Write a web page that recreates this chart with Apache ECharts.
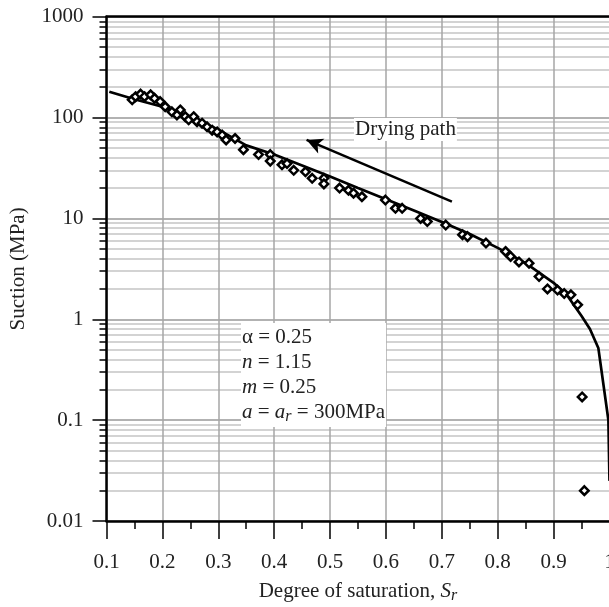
<!DOCTYPE html>
<html><head><meta charset="utf-8">
<script src="https://cdn.jsdelivr.net/npm/echarts@6/dist/echarts.min.js"></script>
<style>html,body{margin:0;padding:0;background:#fff}#c{width:609px;height:607px}</style>
</head><body><div id="c"></div>
<script>
// Measured points: degree of saturation and suction (MPa)
const measuredSat = [0.146,0.152,0.161,0.168,0.179,0.186,0.196,0.205,0.217,0.232,0.226,0.241,0.247,0.256,0.262,0.271,0.280,0.289,0.298,0.307,0.314,
  0.330,0.345,0.372,0.393,0.393,0.414,0.423,0.435,0.456,0.468,0.489,0.489,0.517,0.533,
  0.542,0.557,0.599,0.617,0.629,0.662,0.674,0.707,0.737,0.746,0.779,0.814,0.823,0.838,0.856,0.874,0.889,0.907,0.919,0.931,0.943,
  0.951,0.955];
const measuredSuction = [150,161,171,161,168,155,144,128,114,119,106,102,95,102,91,88,81,75,72,67,60,
  62,48,43,43,37,34,35,30,29,25,25,22,20,19,
  17.8,16.4,15.2,12.6,12.6,10.0,9.3,8.6,6.9,6.6,5.7,4.7,4.2,3.7,3.6,2.65,2.0,1.95,1.8,1.75,1.39,
  0.17,0.02];
// Fitted curve
const curveSat = [0.105,0.15,0.2,0.25,0.3,0.35,0.4,0.45,0.5,0.55,0.6,0.65,0.7,0.75,0.8,0.85,0.9,0.925,0.95,0.965,0.98,0.998,1.0];
const curveSuction = [180,152,128,100,76,53,43,33.5,26,20,15.5,12,9.2,7,5.1,3.6,2.3,1.7,1.08,0.8,0.52,0.1,0.025];
// Axis ticks
const xMin = 0.1, xMax = 1.0, xStep = 0.1;
const yMajorTicks = [0.01,0.1,1,10,100,1000];
const yMinorTicks = [0.02,0.03,0.04,0.05,0.06,0.07,0.08,0.09,
  0.2,0.3,0.4,0.5,0.6,0.7,0.8,0.9,
  2,3,4,5,6,7,8,9,
  20,30,40,50,60,70,80,90,
  200,300,400,500,600,700,800,900];
// Arrow (data coords)
const arrowFrom = [0.718, 14.7];
const arrowTo = [0.458, 60];

const FONT = 'Liberation Serif';
const chart = echarts.init(document.getElementById('c'), null, {renderer:'canvas'});
const option = {
  animation: false,
  backgroundColor: '#fff',
  grid: {left: 106.5, top: 16.7, width: 503, height: 504.3, containLabel: false, outerBoundsMode: 'none'},
  xAxis: [{
    type: 'value', min: xMin, max: xMax, interval: xStep, position: 'bottom',
    name: '{t|Degree of saturation, }{i|S}{sub|r}', nameLocation: 'middle', nameGap: 57,
    nameTextStyle: {rich: {
      t: {fontFamily: FONT, fontSize: 21, color: '#222'},
      i: {fontFamily: FONT, fontSize: 21, fontStyle: 'italic', color: '#222'},
      sub: {fontFamily: FONT, fontSize: 16, fontStyle: 'italic', color: '#222', verticalAlign: 'bottom', padding: [10,0,0,0]}
    }},
    axisLine: {show: true, onZero: false, lineStyle: {color: '#000', width: 2.5}},
    axisTick: {show: true, length: 18, lineStyle: {color: '#000', width: 1.5}},
    minorTick: {show: true, splitNumber: 2, length: 8, lineStyle: {color: '#000', width: 1.5}},
    splitLine: {show: true, lineStyle: {color: '#a6a6a6', width: 1.5}},
    axisLabel: {fontFamily: FONT, fontSize: 21, color: '#222', margin: 31,
      formatter: v => String(Math.round(v * 10) / 10)}
  }, {
    type: 'value', min: xMin, max: xMax, interval: xStep, position: 'top',
    axisLine: {show: true, onZero: false, lineStyle: {color: '#000', width: 2.5}},
    axisTick: {show: false}, axisLabel: {show: false}, splitLine: {show: false}
  }],
  yAxis: [{
    type: 'log', logBase: 10, min: yMajorTicks[0], max: yMajorTicks[yMajorTicks.length-1],
    name: 'Suction (MPa)', nameLocation: 'middle', nameGap: 78,
    nameTextStyle: {fontFamily: FONT, fontSize: 21, color: '#222'},
    axisLine: {show: true, onZero: false, lineStyle: {color: '#000', width: 2.5}},
    axisTick: {show: true, length: 14, lineStyle: {color: '#000', width: 1.5}},
    splitLine: {show: true, lineStyle: {color: '#999', width: 1.5}},
    axisLabel: {fontFamily: FONT, fontSize: 21, color: '#222', margin: 23,
      formatter: v => (v < 1 ? String(+Number(v).toPrecision(1)) : String(Math.round(v)))}
  }, {
    type: 'log', logBase: 10, min: yMajorTicks[0], max: yMajorTicks[yMajorTicks.length-1], position: 'left',
    axisLine: {show: false},
    axisTick: {show: true, length: 7, customValues: yMinorTicks, lineStyle: {color: '#000', width: 1.5}},
    axisLabel: {show: false},
    splitLine: {show: true, lineStyle: {color: '#c4c4c4', width: 1.5}}
  }],
  series: [{
    type: 'line', xAxisIndex: 0, yAxisIndex: 0, z: 4,
    data: curveSat.map((s, i) => [s, curveSuction[i]]),
    symbol: 'none', smooth: false,
    lineStyle: {color: '#000', width: 2.7},
    markLine: {
      silent: true, symbol: ['none', 'arrow'], symbolSize: [12, 16],
      label: {show: false},
      lineStyle: {color: '#000', width: 2.5, type: 'solid'},
      data: [[{coord: arrowFrom}, {coord: arrowTo}]]
    }
  }, {
    type: 'scatter', xAxisIndex: 0, yAxisIndex: 0, z: 5,
    data: measuredSat.map((s, i) => [s, measuredSuction[i]]),
    symbol: 'diamond', symbolSize: 8.5,
    itemStyle: {color: '#fff', borderColor: '#000', borderWidth: 2.5, opacity: 1}
  }],
  graphic: [{
    type: 'text', left: 354, top: 118, z: 10,
    style: {text: 'Drying path', fontFamily: FONT, fontSize: 21, fill: '#222',
      backgroundColor: '#fff', padding: [1, 1, 1, 1]}
  }, {
    type: 'text', left: 241, top: 323, z: 10,
    style: {
      text: 'α = 0.25\n{i|n} = 1.15\n{i|m} = 0.25\n{i|a} = {i|a}{sub|r} = 300MPa',
      fontFamily: FONT, fontSize: 21, fill: '#222', lineHeight: 25,
      backgroundColor: '#fff', padding: [2, 1, 2, 1],
      rich: {
        i: {fontFamily: FONT, fontSize: 21, fontStyle: 'italic', fill: '#222', lineHeight: 25},
        sub: {fontFamily: FONT, fontSize: 16, fontStyle: 'italic', fill: '#222', verticalAlign: 'bottom', lineHeight: 14}
      }
    }
  }]
};
chart.setOption(option);
</script>
</body></html>
